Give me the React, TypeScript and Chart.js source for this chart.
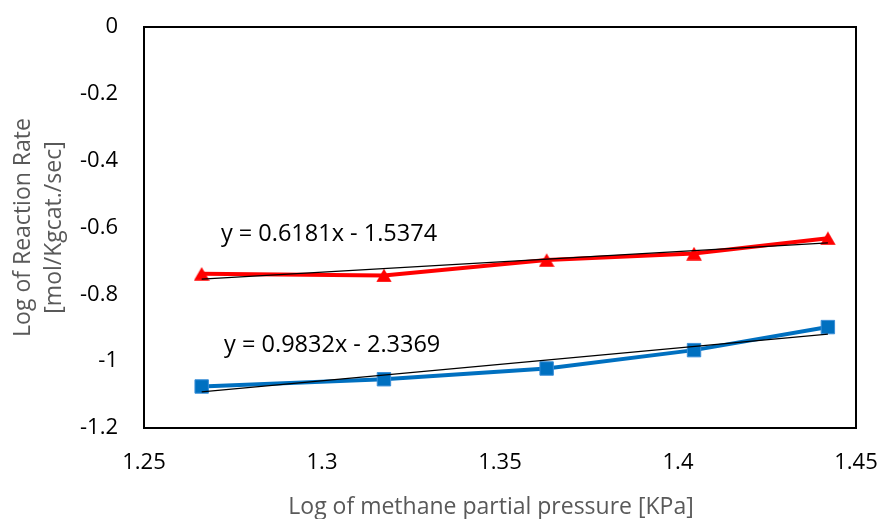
import React, { useEffect, useRef } from "react";
import { Chart, registerables } from "chart.js";

Chart.register(...registerables);

// ---- data ----
const xValues = [1.2662, 1.3174, 1.3631, 1.4045, 1.4421];
const redValues = [-0.7385, -0.7434, -0.6976, -0.678, -0.632];
const blueValues = [-1.0758, -1.054, -1.022, -0.967, -0.898];

const redSlope = 0.6181;
const redIntercept = -1.5374;
const blueSlope = 0.9832;
const blueIntercept = -2.3369;

const equationTexts = ["y = 0.6181x - 1.5374", "y = 0.9832x - 2.3369"];
const equationX = [1.2716, 1.2725];
const equationY = [-0.6213, -0.952];

const xMin = 1.25;
const xMax = 1.45;
const xStep = 0.05;
const yMin = -1.2;
const yMax = 0;
const yStep = 0.2;

const xTitle = "Log of methane partial pressure [KPa]";
const yTitleLines = ["Log of Reaction Rate", "[mol/Kgcat./sec]"];

const FONT = "'Open Sans', sans-serif";

function fmt(v: number): string {
  const r = Number(v.toFixed(3));
  if (Math.abs(r) < 1e-9) return "0";
  return String(r);
}

function makeTriangle(color: string): HTMLCanvasElement {
  const c = document.createElement("canvas");
  c.width = 16;
  c.height = 14;
  const ctx = c.getContext("2d")!;
  ctx.fillStyle = color;
  ctx.beginPath();
  ctx.moveTo(8, 0.3);
  ctx.lineTo(15.8, 13.7);
  ctx.lineTo(0.2, 13.7);
  ctx.closePath();
  ctx.fill();
  return c;
}

const decorPlugin = {
  id: "decor",
  afterDraw(chart: any) {
    const { ctx, chartArea } = chart;
    const xs = chart.scales.x;
    const ys = chart.scales.y;
    ctx.save();
    // plot border
    ctx.strokeStyle = "#000";
    ctx.lineWidth = 2;
    ctx.strokeRect(
      chartArea.left,
      chartArea.top,
      chartArea.right - chartArea.left,
      chartArea.bottom - chartArea.top
    );
    // equations
    ctx.fillStyle = "#000";
    ctx.font = `23.5px ${FONT}`;
    ctx.textAlign = "left";
    ctx.textBaseline = "middle";
    equationTexts.forEach((t, i) => {
      ctx.fillText(t, xs.getPixelForValue(equationX[i]), ys.getPixelForValue(equationY[i]));
    });
    // x title
    ctx.fillStyle = "#595959";
    ctx.font = `23px ${FONT}`;
    ctx.textAlign = "center";
    ctx.textBaseline = "alphabetic";
    ctx.fillText(xTitle, 491, 514);
    // y title
    ctx.save();
    ctx.translate(0, (chartArea.top + chartArea.bottom) / 2);
    ctx.rotate(-Math.PI / 2);
    ctx.textAlign = "center";
    ctx.fillText(yTitleLines[0], 0, 30);
    ctx.fillText(yTitleLines[1], 0, 61);
    ctx.restore();
    ctx.restore();
  },
};

export default function App() {
  const ref = useRef<HTMLCanvasElement | null>(null);

  useEffect(() => {
    if (!ref.current) return;
    const x0 = xValues[0];
    const x1 = xValues[xValues.length - 1];
    const chart = new Chart(ref.current, {
      type: "scatter",
      data: {
        datasets: [
          {
            label: "red",
            data: xValues.map((x, i) => ({ x, y: redValues[i] })),
            showLine: true,
            borderColor: "#FF0000",
            backgroundColor: "#FF0000",
            borderWidth: 4,
            pointStyle: makeTriangle("#FF0000") as any,
            pointRadius: 8,
            order: 1,
          },
          {
            label: "blue",
            data: xValues.map((x, i) => ({ x, y: blueValues[i] })),
            showLine: true,
            borderColor: "#0070C0",
            backgroundColor: "#0070C0",
            pointBackgroundColor: "#0070C0",
            pointBorderColor: "#3A8FD8",
            pointBorderWidth: 1,
            borderWidth: 4,
            pointStyle: "rect",
            pointRadius: 9.5,
            order: 1,
          },
          {
            label: "redTrend",
            data: [
              { x: x0, y: redSlope * x0 + redIntercept },
              { x: x1, y: redSlope * x1 + redIntercept },
            ],
            showLine: true,
            borderColor: "#000",
            borderWidth: 1.2,
            pointRadius: 0,
            order: -1,
          },
          {
            label: "blueTrend",
            data: [
              { x: x0, y: blueSlope * x0 + blueIntercept },
              { x: x1, y: blueSlope * x1 + blueIntercept },
            ],
            showLine: true,
            borderColor: "#000",
            borderWidth: 1.2,
            pointRadius: 0,
            order: -1,
          },
        ],
      },
      options: {
        responsive: false,
        animation: false,
        layout: { padding: { top: 27, right: 24, left: 0, bottom: 0 } },
        plugins: {
          legend: { display: false },
          tooltip: { enabled: false },
        },
        scales: {
          x: {
            type: "linear",
            min: xMin,
            max: xMax,
            grid: { display: false, drawTicks: false },
            border: { display: false },
            ticks: {
              stepSize: xStep,
              padding: 22,
              color: "#000",
              font: { family: FONT, size: 22 },
              maxRotation: 0,
              callback: (v: any) => fmt(Number(v)),
            },
            afterFit: (s: any) => {
              s.height = 91;
              s.paddingLeft = 0;
              s.paddingRight = 0;
              s.paddingTop = 0;
              s.paddingBottom = 0;
            },
          },
          y: {
            type: "linear",
            min: yMin,
            max: yMax,
            grid: { display: false, drawTicks: false },
            border: { display: false },
            ticks: {
              stepSize: yStep,
              padding: 26,
              color: "#000",
              font: { family: FONT, size: 22 },
              callback: (v: any) => fmt(Number(v)),
            },
            afterFit: (s: any) => {
              s.width = 144;
              s.paddingLeft = 0;
              s.paddingRight = 0;
              s.paddingTop = 0;
              s.paddingBottom = 0;
            },
          },
        },
      },
      plugins: [decorPlugin],
    });
    return () => chart.destroy();
  }, []);

  return (
    <div style={{ position: "absolute", left: 0, top: 0, width: 880, height: 519, background: "#fff" }}>
      <canvas ref={ref} width={880} height={519} style={{ display: "block" }} />
    </div>
  );
}
